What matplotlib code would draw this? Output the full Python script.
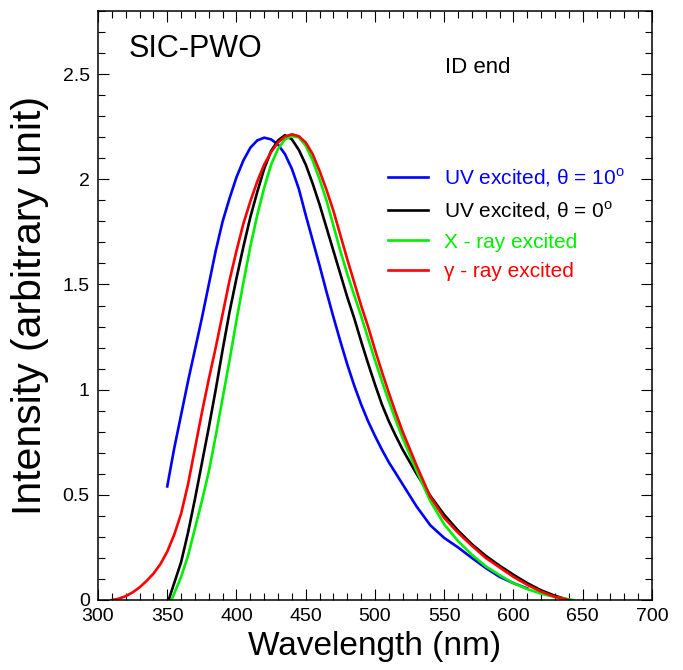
import matplotlib
matplotlib.use("Agg")
import matplotlib.pyplot as plt
from matplotlib.ticker import MultipleLocator

plt.rcParams['font.family'] = ['Liberation Sans', 'DejaVu Sans']
plt.rcParams['mathtext.fontset'] = 'custom'
plt.rcParams['mathtext.rm'] = 'Liberation Sans'

# UV excited, theta = 10 deg
wl_uv10 = [350, 355, 360, 365, 370, 375, 380, 385, 390, 395, 400, 405, 410, 415,
           420, 425, 430, 435, 440, 445, 450, 455, 460, 465, 470, 475, 480, 485,
           490, 495, 500, 505, 510, 520, 530, 540, 550, 560, 570, 580, 590, 600, 610]
i_uv10 = [0.54, 0.72, 0.88, 1.04, 1.19, 1.34, 1.50, 1.66, 1.80, 1.91, 2.01, 2.09,
          2.15, 2.185, 2.198, 2.19, 2.165, 2.12, 2.05, 1.955, 1.83, 1.71, 1.59,
          1.465, 1.345, 1.23, 1.12, 1.02, 0.93, 0.85, 0.78, 0.715, 0.655, 0.55,
          0.445, 0.355, 0.295, 0.25, 0.20, 0.152, 0.11, 0.08, 0.055]

# UV excited, theta = 0 deg
wl_uv0 = [351, 355, 360, 365, 370, 375, 380, 385, 390, 395, 400, 405, 410, 415,
          420, 425, 430, 435, 440, 445, 450, 455, 460, 465, 470, 475, 480, 485,
          490, 495, 500, 505, 510, 515, 520, 530, 540, 550, 560, 570, 580, 590,
          600, 610, 620, 630, 640]
i_uv0 = [0.0, 0.08, 0.18, 0.32, 0.48, 0.65, 0.82, 1.00, 1.19, 1.37, 1.53, 1.68,
         1.82, 1.94, 2.05, 2.135, 2.185, 2.21, 2.19, 2.14, 2.07, 1.98, 1.88, 1.77,
         1.66, 1.55, 1.44, 1.34, 1.23, 1.125, 1.025, 0.93, 0.85, 0.78, 0.715, 0.60,
         0.495, 0.405, 0.33, 0.265, 0.21, 0.163, 0.12, 0.08, 0.046, 0.02, 0.0]

# X-ray excited
wl_x = [353, 355, 360, 365, 370, 375, 380, 385, 390, 395, 400, 405, 410, 415,
        420, 425, 430, 435, 440, 445, 450, 455, 460, 465, 470, 475, 480, 485,
        490, 495, 500, 505, 510, 515, 520, 530, 540, 550, 560, 570, 580, 590,
        600, 610, 620, 630, 643]
i_x = [0.0, 0.03, 0.11, 0.21, 0.34, 0.47, 0.61, 0.78, 0.96, 1.14, 1.33, 1.51,
       1.68, 1.83, 1.96, 2.07, 2.145, 2.19, 2.205, 2.20, 2.16, 2.09, 2.00, 1.90,
       1.78, 1.66, 1.55, 1.45, 1.35, 1.245, 1.14, 1.04, 0.945, 0.855, 0.77, 0.615,
       0.47, 0.36, 0.28, 0.215, 0.16, 0.118, 0.08, 0.052, 0.03, 0.014, 0.0]

# gamma-ray excited
wl_g = [310, 315, 320, 325, 330, 335, 340, 345, 350, 355, 360, 365, 370, 375,
        380, 385, 390, 395, 400, 405, 410, 415, 420, 425, 430, 435, 440, 445,
        450, 455, 460, 465, 470, 475, 480, 485, 490, 495, 500, 505, 510, 515,
        520, 530, 540, 550, 560, 570, 580, 590, 600, 610, 620, 630, 640]
i_g = [0.0, 0.006, 0.018, 0.036, 0.06, 0.09, 0.125, 0.17, 0.23, 0.31, 0.41,
       0.55, 0.72, 0.89, 1.05, 1.20, 1.36, 1.52, 1.66, 1.79, 1.895, 1.99, 2.07,
       2.13, 2.175, 2.203, 2.214, 2.205, 2.175, 2.12, 2.04, 1.95, 1.85, 1.735,
       1.62, 1.51, 1.40, 1.30, 1.19, 1.085, 0.985, 0.89, 0.80, 0.64, 0.49, 0.39,
       0.32, 0.258, 0.20, 0.155, 0.11, 0.072, 0.04, 0.015, 0.0]

fig = plt.figure(figsize=(6.83, 6.70), dpi=100)
ax = fig.add_axes([0.1435, 0.1045, 0.811, 0.879])

lw = 1.9
ax.plot(wl_uv10, i_uv10, color='#0000ff', lw=lw, label=r'UV excited, θ = 10$^{\rm o}$')
ax.plot(wl_uv0, i_uv0, color='black', lw=lw, label=r'UV excited, θ = 0$^{\rm o}$')
ax.plot(wl_x, i_x, color='#00ee00', lw=lw, label='X - ray excited')
ax.plot(wl_g, i_g, color='#ff0000', lw=lw, label='γ - ray excited')

ax.set_xlim(300, 700)
ax.set_ylim(0, 2.8)
ax.xaxis.set_major_locator(MultipleLocator(50))
ax.xaxis.set_minor_locator(MultipleLocator(10))
ax.yaxis.set_major_locator(MultipleLocator(0.5))
ax.yaxis.set_minor_locator(MultipleLocator(0.1))
ax.set_yticks([0, 0.5, 1, 1.5, 2, 2.5])
ax.set_yticklabels(['0', '0.5', '1', '1.5', '2', '2.5'])
ax.tick_params(which='both', direction='in', top=True, right=True, width=0.8)
ax.tick_params(which='major', length=8, labelsize=14, pad=6)
ax.tick_params(which='minor', length=5)
for s in ax.spines.values():
    s.set_linewidth(1.1)

ax.set_xlabel('Wavelength (nm)', fontsize=24, labelpad=4)
ax.set_ylabel('Intensity (arbitrary unit)', fontsize=29.5, labelpad=10)

ax.text(0.055, 0.935, 'SIC-PWO', transform=ax.transAxes, fontsize=22, va='center')
ax.text(0.627, 0.905, 'ID end', transform=ax.transAxes, fontsize=16, va='center')

leg = ax.legend(loc='upper left', bbox_to_anchor=(0.5235, 0.736), frameon=False,
                fontsize=15, handlelength=1.9, handletextpad=0.8, labelspacing=0.5,
                borderpad=0, borderaxespad=0, labelcolor='linecolor')

fig.savefig('out.png', dpi=100)
